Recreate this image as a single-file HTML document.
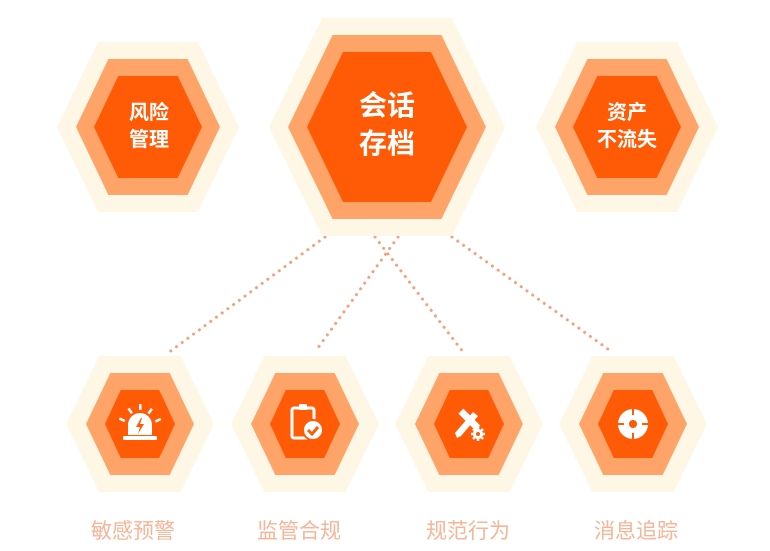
<!DOCTYPE html>
<html><head><meta charset="utf-8"><style>
html,body{margin:0;padding:0;background:#fff;}
body{width:770px;height:551px;position:relative;overflow:hidden;font-family:"Liberation Sans","Noto Sans CJK SC",sans-serif;}
svg{position:absolute;left:0;top:0;}
.t{position:absolute;color:#fff;text-align:center;font-weight:bold;}
.lb{position:absolute;top:515px;width:140px;text-align:center;color:#f7b497;font-size:21px;}
</style></head><body>
<svg id="s" width="770" height="551" viewBox="0 0 770 551">
<g stroke="#f6a07c" stroke-width="3" stroke-dasharray="0.1 7" stroke-linecap="round" fill="none">
<line x1="325" y1="237" x2="168" y2="353"/>
<line x1="398" y1="237" x2="315" y2="352"/>
<line x1="375" y1="237" x2="463" y2="352"/>
<line x1="452" y1="237" x2="612" y2="352"/>
</g>
<g id="h"></g>
<g fill="#fff">
<g transform="translate(140,424)">
<rect x="-17" y="12" width="34" height="4" rx="1"/>
<path d="M-12 11 V1 a12 12 0 0 1 24 0 V11 Z"/>
<path d="M1 -6 L-4 3 L0 3 L-2 10 L4 0 L0 0 L2 -6Z" fill="#ff5a05"/>
<rect x="-1" y="-20" width="2.5" height="6"/>
<rect x="-11" y="-16" width="2.5" height="6" transform="rotate(-35 -10 -13)"/>
<rect x="9" y="-16" width="2.5" height="6" transform="rotate(35 10 -13)"/>
<rect x="-19" y="-7" width="2.5" height="6" transform="rotate(-65 -18 -4)"/>
<rect x="17" y="-7" width="2.5" height="6" transform="rotate(65 18 -4)"/>
</g>
<g transform="translate(305,424)">
<rect x="-13" y="-16" width="22" height="30" rx="2" fill="none" stroke="#fff" stroke-width="3"/>
<rect x="-6" y="-20" width="8" height="6" rx="1"/>
<circle cx="8" cy="6" r="10" fill="#fff" stroke="#ff5a05" stroke-width="2"/>
<path d="M3 6 L7 10 L13 3" stroke="#ff5a05" stroke-width="3" fill="none"/>
</g>
<g transform="translate(469,424)">
<rect x="-3" y="-16" width="7" height="24" transform="rotate(-45 0 -4)"/>
<path d="M-12 14 L-14 9 L4 -12 L9 -8 L-8 12 Z"/>
<circle cx="9" cy="10" r="5"/>
<g stroke="#fff" stroke-width="2.5"><line x1="9" y1="3" x2="9" y2="17"/><line x1="2" y1="10" x2="16" y2="10"/><line x1="4" y1="5" x2="14" y2="15"/><line x1="14" y1="5" x2="4" y2="15"/></g>
<circle cx="9" cy="10" r="2" fill="#ff5a05"/>
</g>
<g transform="translate(633,424)">
<circle r="15"/><circle r="4" fill="#ff5a05"/>
<g stroke="#ff5a05" stroke-width="2"><line x1="0" y1="-16" x2="0" y2="-9"/><line x1="0" y1="16" x2="0" y2="9"/><line x1="-16" y1="0" x2="-9" y2="0"/><line x1="16" y1="0" x2="9" y2="0"/></g>
</g>
</g>
</svg>
<script>
var g=document.getElementById('h'),ns='http://www.w3.org/2000/svg';
function hex(cx,cy,a,h,c){var t=0.55*a;var p=document.createElementNS(ns,'polygon');
p.setAttribute('points',[[cx-a,cy],[cx-t,cy-h],[cx+t,cy-h],[cx+a,cy],[cx+t,cy+h],[cx-t,cy+h]].map(function(q){return q.join(',')}).join(' '));
p.setAttribute('fill',c);g.appendChild(p);}
function set(cx,cy,L){hex(cx,cy,L[0],L[1],'#fff7e6');hex(cx,cy,L[2],L[3],'#ffa468');hex(cx,cy,L[4],L[5],'#ff5a05');}
set(387,127,[118,109,99,92,80,75]);
set(148,127,[91,85,72,68,54,51]);
set(627,127,[91,85,72,68,54,51]);
[140,305,469,633].forEach(function(x){set(x,424,[74,68,54,51,35,34]);});
</script>
<div class="t" style="left:327px;top:87px;width:120px;font-size:28px;line-height:38px;">会话<br>存档</div>
<div class="t" style="left:99px;top:100px;width:100px;font-size:20px;line-height:27px;">风险<br>管理</div>
<div class="t" style="left:577px;top:100px;width:100px;font-size:20px;line-height:27px;">资产<br>不流失</div>
<div class="lb" style="left:63px;">敏感预警</div>
<div class="lb" style="left:229px;">监管合规</div>
<div class="lb" style="left:398px;">规范行为</div>
<div class="lb" style="left:566px;">消息追踪</div>
</body></html>
